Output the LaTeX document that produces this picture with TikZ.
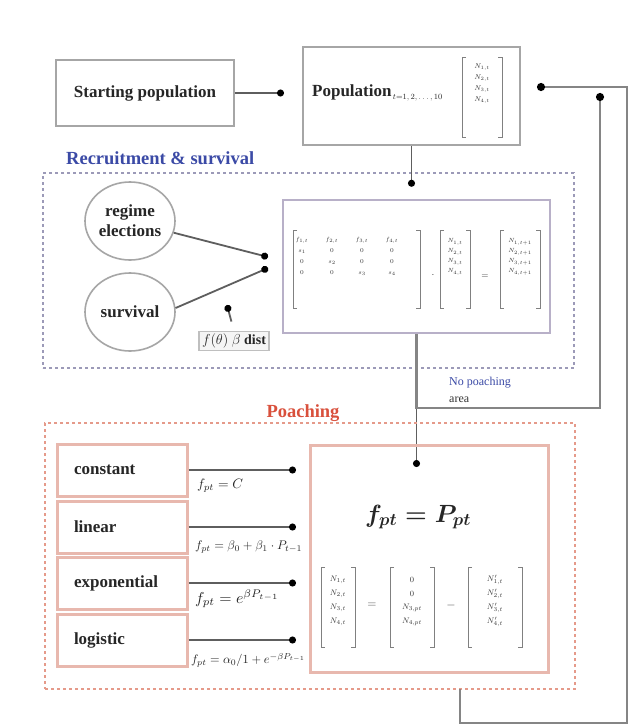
\documentclass[tikz,border=0pt]{standalone}
\usepackage{fontspec}
\setmainfont{Liberation Serif}
\usepackage{amsmath}
\usetikzlibrary{arrows.meta,shapes.geometric,matrix,calc}
\definecolor{linegray}{HTML}{5E5E5E}
\definecolor{boxgray}{HTML}{A6A6A6}
\definecolor{recblue}{HTML}{3B4AA6}
\definecolor{recdash}{HTML}{9C9AB8}
\definecolor{mbox}{HTML}{B8B0C8}
\definecolor{poared}{HTML}{D9503C}
\definecolor{poadash}{HTML}{E59A8A}
\definecolor{salbox}{HTML}{E8B8AE}
\definecolor{fbgray}{HTML}{858585}
\newcommand{\lbrk}[3]{\draw[brk] (#1+4,#2) -| (#1,#3) -- (#1+4,#3);}
\newcommand{\rbrk}[3]{\draw[brk] (#1-4,#2) -| (#1,#3) -- (#1-4,#3);}
\begin{document}
\begin{tikzpicture}[x=1pt,y=-1pt,
  lbl/.style={font=\fontsize{17}{20}\selectfont\bfseries, text=black!85},
  gbox/.style={draw=boxgray, line width=2pt, inner sep=0pt},
  conn/.style={draw=linegray, line width=1.8pt, -{Circle[length=7pt,color=black]}},
  fb/.style={draw=fbgray, line width=2.6pt, -{Circle[length=8pt,color=black]}},
  brk/.style={draw=black!50, line width=1pt},
  ent/.style={font=\fontsize{6.5}{7}\selectfont, text=black!80, inner sep=0pt},
  sbox/.style={draw=salbox, line width=3pt, minimum width=130pt, minimum height=52pt, lbl, align=left, text width=96pt, inner xsep=17pt},
  formula/.style={text=black!85, anchor=west, inner sep=0pt}]
\fill[white] (0,0) rectangle (633,726);
\useasboundingbox (0,0) rectangle (633,726);

% --- top row
\node[gbox, lbl, minimum width=178pt, minimum height=66pt] (start) at (145,93) {Starting population};
\node[gbox, minimum width=217pt, minimum height=98pt] (pop) at (411.5,96) {};
\node[lbl, anchor=west, inner sep=0pt] (poptxt) at (312,93) {Population\raisebox{-3pt}{\fontsize{8.5}{9}\selectfont\mdseries\,$t{=}1,2,\ldots,10$}};
\lbrk{462}{57}{137} \rbrk{502}{57}{137}
\matrix (pv) [matrix of math nodes, nodes={ent, font=\fontsize{7.5}{8}\selectfont, minimum height=11pt}] at (482,84) {N_{1,t}\\ N_{2,t}\\ N_{3,t}\\ N_{4,t}\\};

% --- recruitment & survival
\node[draw=recdash, line width=2pt, dash pattern=on 3pt off 3pt, minimum width=531pt, minimum height=195pt, inner sep=0pt] (RD) at (308.5,270.5) {};
\node[font=\fontsize{18.5}{20}\selectfont\bfseries, text=recblue, anchor=west, inner sep=0pt] (RT) at (66,158) {Recruitment \& survival};
\node[draw=mbox, line width=2.5pt, minimum width=267pt, minimum height=133pt, inner sep=0pt] (M) at (416.5,266.5) {};
\lbrk{293}{230}{308} \rbrk{420}{230}{308}
\matrix (LM) [matrix of math nodes, nodes={ent, minimum width=30pt, minimum height=10pt}] at (347,257)
  {f_{1,t} & f_{2,t} & f_{3,t} & f_{4,t}\\ s_{1} & 0 & 0 & 0\\ 0 & s_{2} & 0 & 0\\ 0 & 0 & s_{3} & s_{4}\\};
\node[ent, font=\fontsize{10}{10}\selectfont] (dot1) at (433,275) {$\cdot$};
\lbrk{440}{230}{308} \rbrk{470}{230}{308}
\matrix (NV) [matrix of math nodes, nodes={ent, minimum height=10pt}] at (455,257) {N_{1,t}\\ N_{2,t}\\ N_{3,t}\\ N_{4,t}\\};
\node[ent, font=\fontsize{9}{9}\selectfont] (eq1) at (485,277) {$=$};
\lbrk{500}{230}{308} \rbrk{540}{230}{308}
\matrix (NV2) [matrix of math nodes, nodes={ent, minimum height=10pt}] at (520,257) {N_{1,t+1}\\ N_{2,t+1}\\ N_{3,t+1}\\ N_{4,t+1}\\};

\node[ellipse, draw=boxgray, line width=1.6pt, minimum width=90pt, minimum height=78pt, inner sep=0pt, lbl, align=center] (C1) at (130,221) {regime\\elections};
\node[ellipse, draw=boxgray, line width=1.6pt, minimum width=90pt, minimum height=78pt, inner sep=0pt, lbl] (C2) at (130,312) {survival};
\coordinate (m1) at (268,257);
\coordinate (m2) at (268,268);
\draw[conn] (C1.345) -- (m1);
\draw[conn] (C2.5) -- (m2);
\node[draw=black!25, fill=black!4, line width=1.2pt, font=\fontsize{14}{16}\selectfont\bfseries, text=black!85, inner xsep=3pt, inner ysep=2pt] (BD) at (234,341) {$f(\theta)$ $\beta$ dist};
\coordinate (bt) at (227,305);
\draw[conn, shorten <=10pt] (BD.north) -- (bt);

% --- connectors top
\draw[conn, shorten >=18pt] (start.east) -- (pop.west |- start.east);
\draw[conn, shorten >=12pt] (pop.south) -- (pop.south |- M.north);

% --- no poaching branch
\coordinate (pin) at (416.5,467);
\coordinate (np) at (600,408);
\coordinate (npend) at (600,93);
\draw[conn] (M.south) -- (pin);
\draw[fb] (M.south) |- (np) -- (npend);
\node[font=\fontsize{12}{13}\selectfont, text=recblue, anchor=west, inner sep=0pt] (NP1) at (449,383) {No poaching};
\node[font=\fontsize{12}{13}\selectfont, text=black!80, anchor=west, inner sep=0pt] (NP2) at (449,400) {area};

% --- poaching
\node[draw=poadash, line width=2pt, dash pattern=on 3pt off 3pt, minimum width=530pt, minimum height=266pt, inner sep=0pt] (PD) at (310,556) {};
\node[font=\fontsize{18.5}{20}\selectfont\bfseries, text=poared, inner sep=0pt] (PT) at (303,413) {Poaching};
\node[sbox] (B1) at (122,470) {constant};
\node[sbox] (B2) at (122,527) {linear};
\node[sbox] (B3) at (122,583) {exponential};
\node[sbox] (B4) at (122,640) {logistic};
\node[draw=salbox, line width=3pt, minimum width=238pt, minimum height=227pt, inner sep=0pt] (R) at (429,558.5) {};

\coordinate (e1) at (296,470);
\coordinate (e2) at (296,527);
\coordinate (e3) at (296,583);
\coordinate (e4) at (296,640);
\draw[conn] (B1.east) -- (e1);
\draw[conn] (B2.east) -- (e2);
\draw[conn] (B3.east) -- (e3);
\draw[conn] (B4.east) -- (e4);
\node[formula] (F1) at (197,486) {\resizebox{46pt}{!}{$f_{pt} = C$}};
\node[formula] (F2) at (195,547) {\resizebox{107pt}{!}{$f_{pt} = \beta_0 + \beta_1\cdot P_{t-1}$}};
\node[formula] (F3) at (195,599) {\resizebox{84pt}{!}{$f_{pt} = e^{\beta P_{t-1}}$}};
\node[formula] (F4) at (191,660) {\resizebox{114pt}{!}{$f_{pt} = \alpha_0/1+e^{-\beta P_{t-1}}$}};

\node[font=\fontsize{26}{28}\selectfont, text=black!85, inner sep=0pt] (BF) at (418,517) {$\boldsymbol{f_{pt} = P_{pt}}$};
\lbrk{321}{567}{647} \rbrk{355}{567}{647}
\matrix (RV1) [matrix of math nodes, nodes={ent, font=\fontsize{8}{9}\selectfont, minimum height=14pt}] at (338,601) {N_{1,t}\\ N_{2,t}\\ N_{3,t}\\ N_{4,t}\\};
\node[font=\fontsize{12}{12}\selectfont, text=black!70] (eq2) at (372,605) {$=$};
\lbrk{390}{567}{647} \rbrk{434}{567}{647}
\matrix (RV2) [matrix of math nodes, nodes={ent, font=\fontsize{8}{9}\selectfont, minimum height=14pt}] at (412,601) {0\\ 0\\ N_{3,pt}\\ N_{4,pt}\\};
\node[font=\fontsize{12}{12}\selectfont, text=black!70] (mi) at (451,605) {$-$};
\lbrk{468}{567}{647} \rbrk{522}{567}{647}
\matrix (RV3) [matrix of math nodes, nodes={ent, font=\fontsize{8}{9}\selectfont, minimum height=14pt}] at (495,601) {N'_{1,t}\\ N'_{2,t}\\ N'_{3,t}\\ N'_{4,t}\\};

% --- feedback loop
\coordinate (pout) at (460,689);
\coordinate (fbc) at (627,723);
\coordinate (popin) at (537,87);
\draw[fb] (pout) |- (fbc) |- (popin);
\end{tikzpicture}
\end{document}
